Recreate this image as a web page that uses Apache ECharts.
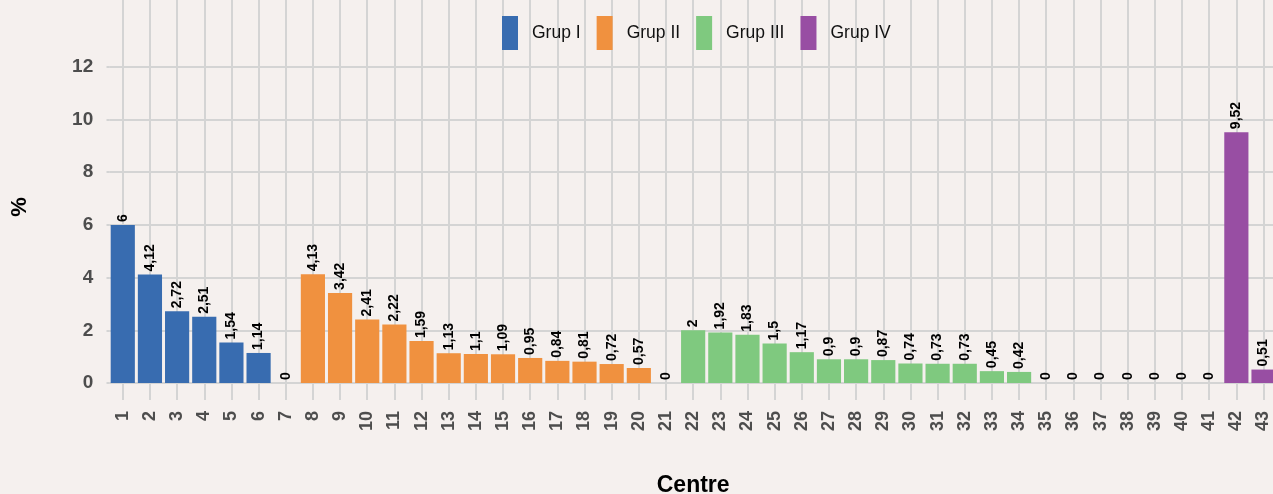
<!DOCTYPE html>
<html>
<head>
<meta charset="utf-8">
<script src="https://cdn.jsdelivr.net/npm/echarts@6/dist/echarts.min.js"></script>
<style>
  html, body { margin: 0; padding: 0; background: #f5f0ee; }
  #chart { width: 1273px; height: 494px; }
</style>
</head>
<body>
<div id="chart"></div>
<script>
// Centres 1..43, share (%) per centre and the group each centre belongs to
const centres = Array.from({ length: 43 }, (_, i) => String(i + 1));
const shares = [
  6, 4.12, 2.72, 2.51, 1.54, 1.14, 0,
  4.13, 3.42, 2.41, 2.22, 1.59, 1.13, 1.1, 1.09, 0.95, 0.84, 0.81, 0.72, 0.57, 0,
  2, 1.92, 1.83, 1.5, 1.17, 0.9, 0.9, 0.87, 0.74, 0.73, 0.73, 0.45, 0.42,
  0, 0, 0, 0, 0, 0, 0,
  9.52, 0.51
];
const groupOf = [
  1, 1, 1, 1, 1, 1, 1,
  2, 2, 2, 2, 2, 2, 2, 2, 2, 2, 2, 2, 2, 2,
  3, 3, 3, 3, 3, 3, 3, 3, 3, 3, 3, 3, 3,
  3, 3, 3, 3, 3, 3, 3,
  4, 4
];
const groupNames = ['Grup I', 'Grup II', 'Grup III', 'Grup IV'];
const groupColors = ['#386cb0', '#f0913f', '#7fc97f', '#984ea3'];
const yTicks = [0, 2, 4, 6, 8, 10, 12];

const GRID = '#d4d4d4';
const FONT = 'Liberation Sans, Arial, sans-serif';
const commaNum = v => String(v).replace('.', ',');

const series = groupNames.map((name, g) => ({
  name,
  type: 'bar',
  barWidth: '89%',
  barGap: '-100%',
  data: shares.map((v, i) => (groupOf[i] === g + 1 ? v : '-')),
  itemStyle: { color: groupColors[g] },
  label: {
    show: true,
    position: 'top',
    rotate: 90,
    align: 'left',
    verticalAlign: 'middle',
    distance: 3,
    color: '#000',
    fontFamily: FONT,
    fontWeight: 'bold',
    fontSize: 14,
    formatter: p => commaNum(p.value)
  }
}));

const chart = echarts.init(document.getElementById('chart'), null, { renderer: 'canvas' });
chart.setOption({
  backgroundColor: '#f5f0ee',
  animation: false,
  textStyle: { fontFamily: FONT },
  legend: {
    left: 502,
    top: 16,
    padding: 0,
    itemGap: 16,
    itemWidth: 16,
    itemHeight: 34,
    icon: 'rect',
    textStyle: { fontSize: 17.5, color: '#111', padding: [0, 0, 0, 9] },
    data: groupNames
  },
  grid: {
    left: 109.2,
    top: 0,
    width: 1167.9,
    height: 383,
    containLabel: false,
    outerBoundsMode: 'none'
  },
  xAxis: {
    type: 'category',
    data: centres,
    name: 'Centre',
    nameLocation: 'middle',
    nameGap: 91,
    nameTextStyle: { fontSize: 23, fontWeight: 'bold', color: '#000' },
    axisLine: { show: false },
    axisTick: { show: true, alignWithLabel: true, length: 17, lineStyle: { color: GRID, width: 2 } },
    axisLabel: {
      rotate: 90,
      margin: 28,
      interval: 0,
      fontSize: 18,
      fontWeight: 'bold',
      color: '#4d4d4d'
    },
    splitLine: { show: true, alignWithLabel: true, interval: 0, lineStyle: { color: GRID, width: 2 } }
  },
  yAxis: {
    type: 'value',
    min: 0,
    max: 14.535,
    interval: 2,
    axisLine: { show: false },
    axisTick: { show: true, length: 2.7, customValues: yTicks, lineStyle: { color: GRID, width: 2 } },
    axisLabel: {
      customValues: yTicks,
      margin: 16,
      fontSize: 19,
      fontWeight: 'bold',
      color: '#4d4d4d',
      formatter: v => (v <= 12 ? String(v) : '')
    },
    splitLine: {
      show: true,
      lineStyle: {
        color: [GRID, GRID, GRID, GRID, GRID, GRID, GRID, 'rgba(0,0,0,0)', 'rgba(0,0,0,0)'],
        width: 2
      }
    }
  },
  graphic: [{
    type: 'text',
    x: 20,
    y: 207,
    rotation: Math.PI / 2,
    style: {
      text: '%',
      align: 'center',
      verticalAlign: 'middle',
      font: 'bold 22px "Liberation Sans", Arial, sans-serif',
      fill: '#000'
    }
  }],
  series
});
</script>
</body>
</html>
